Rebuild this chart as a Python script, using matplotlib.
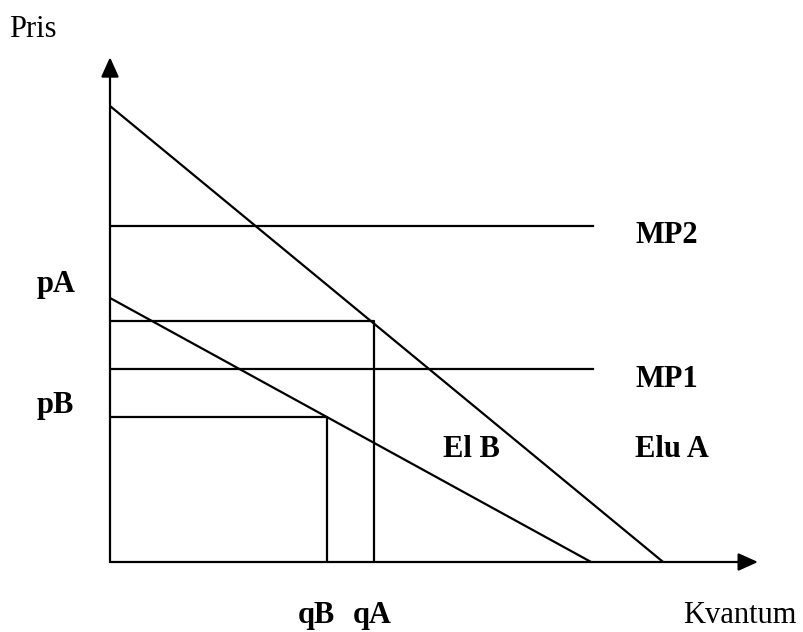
import matplotlib
matplotlib.use("Agg")
import matplotlib.pyplot as plt

# values (price / quantity units, origin at axis corner)
p_max_A = 100.0   # Elu A price intercept
q_max_A = 121.3   # Elu A quantity intercept
p_max_B = 57.9    # El B price intercept
q_max_B = 105.5   # El B quantity intercept
mp1 = 42.3
mp2 = 73.7
mp_end = 105.9
qA, pA = 57.9, 52.9
qB, pB = 47.6, 31.8
x_axis_end = 142.1
y_axis_end = 110.7

plt.rcParams['font.family'] = ['Liberation Serif', 'DejaVu Serif']

W, H = 804, 632
fig = plt.figure(figsize=(W / 100, H / 100), dpi=100)
scale = 4.56
ox, oy = 110, 562
ax = fig.add_axes([ox / W, (H - oy) / H, (W - ox) / W, oy / H])
ax.set_xlim(0, (W - ox) / scale)
ax.set_ylim(0, oy / scale)
ax.axis('off')

lw = 1.6
k = 'black'

# demand curves
ax.plot([0, q_max_A], [p_max_A, 0], color=k, lw=lw)
ax.plot([0, q_max_B], [p_max_B, 0], color=k, lw=lw)

# marginal cost lines
ax.plot([0, mp_end], [mp2, mp2], color=k, lw=lw)
ax.plot([0, mp_end], [mp1, mp1], color=k, lw=lw)

# price/quantity boxes
ax.plot([0, qA, qA], [pA, pA, 0], color=k, lw=lw)
ax.plot([0, qB, qB], [pB, pB, 0], color=k, lw=lw)

# axes with arrows
arrow = dict(arrowstyle='-|>,head_length=0.6,head_width=0.27', mutation_scale=20,
             lw=lw, color=k, shrinkA=0, shrinkB=0)
ax.annotate('', xy=(0, y_axis_end), xytext=(0, 0), arrowprops=arrow, annotation_clip=False)
ax.annotate('', xy=(x_axis_end, 0), xytext=(0, 0), arrowprops=arrow, annotation_clip=False)


def px(x, y):
    return (x - ox) / scale, (oy - y) / scale


fs = 22
labels = [
    ('Pris', 9, 37, 'normal'),
    ('pA', 37, 292, 'bold'),
    ('pB', 37, 413, 'bold'),
    ('MP2', 635, 243, 'bold'),
    ('MP1', 635, 387, 'bold'),
    ('El B', 443, 457, 'bold'),
    ('Elu A', 635, 457, 'bold'),
    ('qB', 298, 623, 'bold'),
    ('qA', 353, 623, 'bold'),
    ('Kvantum', 683, 623, 'normal'),
]
for s, x, y, w in labels:
    tx, ty = px(x, y)
    ax.text(tx, ty, s, fontsize=fs, fontweight=w, ha='left', va='baseline', clip_on=False)

fig.savefig('out.png', dpi=100)
